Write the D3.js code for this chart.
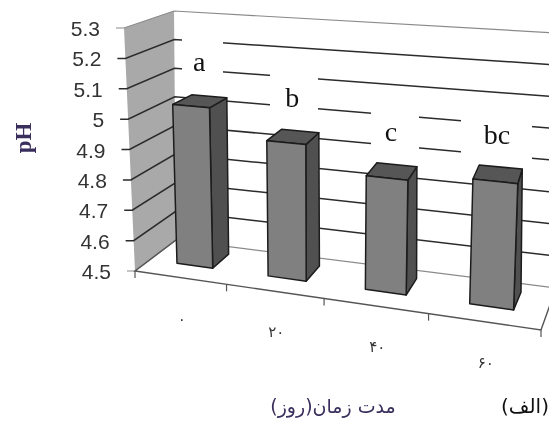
<!DOCTYPE html>
<html>
<head>
<meta charset="utf-8">
<script src="https://cdnjs.cloudflare.com/ajax/libs/d3/7.8.5/d3.min.js"></script>
<style>
  html, body { margin: 0; padding: 0; background: #fff; }
  svg { display: block; filter: blur(0.4px); }
</style>
</head>
<body>
<svg id="chart" width="549" height="423"></svg>
<script>
const days = ['۰', '۲۰', '۴۰', '۶۰'];
const phValues = [5.03, 4.94, 4.86, 4.885];
const letters = ['a', 'b', 'c', 'bc'];
const phTicks = [4.5, 4.6, 4.7, 4.8, 4.9, 5, 5.1, 5.2, 5.3];

const svg = d3.select('#chart');

// the 3d box as excel drew it, corners
const box = {
  fbl: [135, 271], fbr: [541, 330], bbl: [176, 240], bbr: [556, 288],
  ftl: [124, 28], ftr: [557, 60], btl: [174, 11], btr: [556, 33]
};

// perspective makes the category bands wider towards the right
const xFront = d3.scaleLinear().domain([0, 1, 2, 3, 4]).range([133, 225, 323, 428, 541]);
const along = d3.scaleLinear().domain([133, 541]).range([0, 1]);
const y = d3.scaleLinear().domain([4.5, 5.3]).range([0, 1]);

const mix = (a, b, t) => [a[0] + (b[0] - a[0]) * t, a[1] + (b[1] - a[1]) * t];

// u = category position, d = depth 0..1, v = pH
function project(u, d, v) {
  const t = along(xFront(u));
  const h = y(v);
  const bottom = mix(mix(box.fbl, box.fbr, t), mix(box.bbl, box.bbr, t), d);
  const top = mix(mix(box.ftl, box.ftr, t), mix(box.btl, box.btr, t), d);
  return mix(bottom, top, h);
}

const line = d3.line();
const poly = pts => line(pts) + 'Z';

// side wall
svg.append('path')
  .attr('d', poly([project(0, 0, 5.3), project(0, 1, 5.3), project(0, 1, 4.5), project(0, 0, 4.5)]))
  .attr('fill', '#a9a9a9');

// gridlines, wall part then back part
phTicks.forEach(v => {
  const isEdge = v === 5.3 || v === 4.5;
  const tickEnd = project(0, 0, v);
  svg.append('path')
    .attr('d', line([[tickEnd[0] - 8, tickEnd[1]], tickEnd, project(0, 1, v), project(4, 1, v)]))
    .attr('fill', 'none')
    .attr('stroke', isEdge ? '#8a8a8a' : '#2b2b2b')
    .attr('stroke-width', isEdge ? 1.2 : 1.5);
  svg.append('text')
    .attr('x', tickEnd[0] - 24)
    .attr('y', tickEnd[1] + 8)
    .attr('text-anchor', 'end')
    .attr('font-family', 'Liberation Sans')
    .attr('font-size', 21)
    .attr('fill', '#333')
    .text(v);
});

// white patches that were pasted behind the letters
[[182, 25, 41, 71], [270, 62, 48, 68], [371, 100, 48, 60], [461, 115, 71, 50]].forEach(r => {
  svg.append('rect').attr('x', r[0]).attr('y', r[1]).attr('width', r[2]).attr('height', r[3]).attr('fill', '#fff');
});

// floor edges
svg.append('path')
  .attr('d', line([project(0, 1, 4.5), project(0, 0, 4.5), project(4, 0, 4.5), project(4, 1, 4.5)]))
  .attr('fill', 'none')
  .attr('stroke', '#555')
  .attr('stroke-width', 1.4);

// x ticks
xFront.domain().forEach(u => {
  const p = project(u, 0, 4.5);
  svg.append('line')
    .attr('x1', p[0]).attr('y1', p[1])
    .attr('x2', p[0]).attr('y2', p[1] + 7)
    .attr('stroke', '#555')
    .attr('stroke-width', 1.2);
});

// bars
const barLeft = 0.3, barRight = 0.7, depthFront = 0.37, depthBack = 0.8;
days.forEach((day, i) => {
  const v = phValues[i];
  const l = i + barLeft, r = i + barRight;
  const g = svg.append('g').attr('stroke', '#1c1c1c').attr('stroke-width', 1.5).attr('stroke-linejoin', 'round');
  g.append('path')
    .attr('d', poly([project(r, depthFront, v), project(r, depthBack, v), project(r, depthBack, 4.5), project(r, depthFront, 4.5)]))
    .attr('fill', '#505050');
  g.append('path')
    .attr('d', poly([project(l, depthFront, v), project(r, depthFront, v), project(r, depthBack, v), project(l, depthBack, v)]))
    .attr('fill', '#565656');
  g.append('path')
    .attr('d', poly([project(l, depthFront, v), project(r, depthFront, v), project(r, depthFront, 4.5), project(l, depthFront, 4.5)]))
    .attr('fill', '#808080');

  const top = project(i + 0.5, (depthFront + depthBack) / 2, v);
  svg.append('text')
    .attr('x', top[0] - 1)
    .attr('y', top[1] - 30)
    .attr('text-anchor', 'middle')
    .attr('font-family', 'Liberation Serif')
    .attr('font-size', 28)
    .attr('fill', '#111')
    .text(letters[i]);

  const foot = project(i + 0.5, 0, 4.5);
  svg.append('text')
    .attr('x', foot[0] + 1)
    .attr('y', foot[1] + 46)
    .attr('text-anchor', 'middle')
    .attr('font-family', 'DejaVu Sans')
    .attr('font-size', 15)
    .attr('fill', '#333')
    .text(day);
});

// titles
svg.append('text')
  .attr('transform', 'translate(31,138) rotate(-90)')
  .attr('text-anchor', 'middle')
  .attr('font-family', 'Liberation Serif')
  .attr('font-weight', 'bold')
  .attr('font-size', 23)
  .attr('fill', '#3a2f5c')
  .text('pH');

svg.append('text')
  .attr('x', 333)
  .attr('y', 413)
  .attr('text-anchor', 'middle')
  .attr('font-family', 'DejaVu Sans')
  .attr('font-size', 19)
  .attr('fill', '#3a2f5c')
  .text('مدت زمان(روز)');

svg.append('text')
  .attr('x', 525)
  .attr('y', 413)
  .attr('text-anchor', 'middle')
  .attr('font-family', 'DejaVu Sans')
  .attr('font-size', 20)
  .attr('fill', '#111')
  .text('(الف)');
</script>
</body>
</html>
